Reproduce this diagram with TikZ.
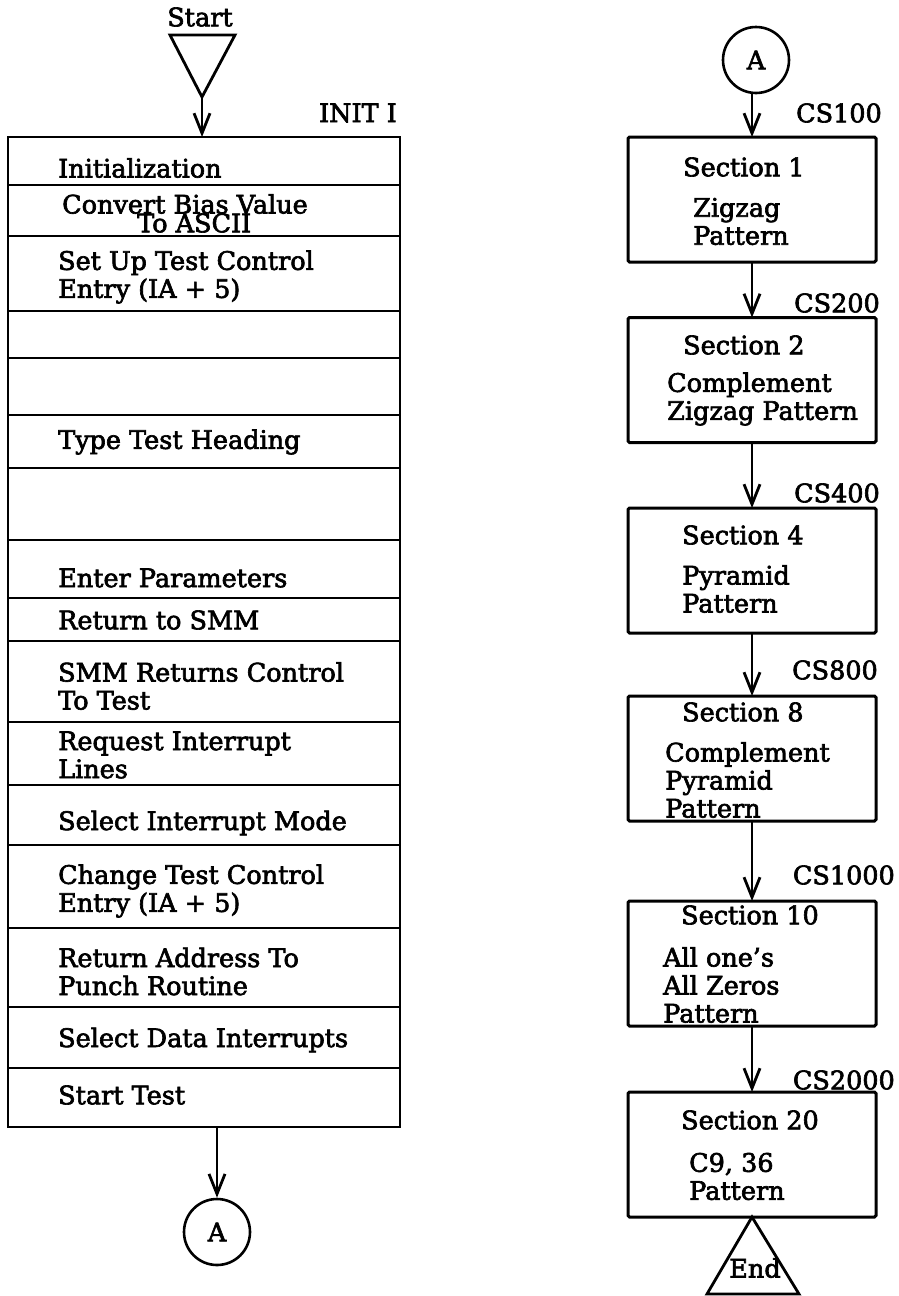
\documentclass[tikz,border=0pt]{standalone}
\usepackage{fontspec}
\setmainfont{DejaVu Serif}[FakeBold=2.5]
\usetikzlibrary{arrows.meta}
\begin{document}
\begin{tikzpicture}[x=1pt,y=-1pt,
  every node/.style={font=\fontsize{25.5}{28}\selectfont},
  row/.style={draw, line width=2.8pt, minimum width=392pt, inner sep=0pt, outer sep=0pt},
  sbox/.style={draw, line width=3pt, minimum width=248pt, minimum height=125pt, inner sep=0pt, outer sep=0pt, rounded corners=1.5pt},
  txt/.style={inner sep=0pt, anchor=west, align=left},
  lbl/.style={inner sep=0pt, anchor=east},
  conn/.style={circle, draw, line width=2.6pt, minimum size=66pt, inner sep=0pt},
  arr/.style={line width=2.8pt, -{Straight Barb[length=20pt,width=16pt,line width=2.8pt]}},
  tri/.style={line width=2.8pt, line join=miter}
]
\useasboundingbox (0,0) rectangle (898,1296);
% ---------- left column ----------
\node[inner sep=0pt] (start) at (200,17) {Start};
\draw[tri] (170,35) -- (235,35) -- (202,97) -- cycle;
\coordinate (apex) at (202,97);
\node[lbl] (init) at (397,113) {INIT I};

\node[row, minimum height=48pt] (r1) at (204,161) {};
\node[row, minimum height=51pt] (r2) at (204,210.5) {};
\node[row, minimum height=75pt] (r3) at (204,273.5) {};
\node[row, minimum height=47pt] (r4) at (204,334.5) {};
\node[row, minimum height=57pt] (r5) at (204,386.5) {};
\node[row, minimum height=53pt] (r6) at (204,441.5) {};
\node[row, minimum height=72pt] (r7) at (204,504) {};
\node[row, minimum height=58pt] (r8) at (204,569) {};
\node[row, minimum height=43pt] (r9) at (204,619.5) {};
\node[row, minimum height=81pt] (r10) at (204,681.5) {};
\node[row, minimum height=63pt] (r11) at (204,753.5) {};
\node[row, minimum height=60pt] (r12) at (204,815) {};
\node[row, minimum height=83pt] (r13) at (204,886.5) {};
\node[row, minimum height=79pt] (r14) at (204,967.5) {};
\node[row, minimum height=61pt] (r15) at (204,1037.5) {};
\node[row, minimum height=59pt] (r16) at (204,1097.5) {};

\node[txt] (t1) at (58,168) {Initialization};
\node[txt] (t2a) at (62,204) {Convert Bias Value};
\node[txt] (t2b) at (137,223) {To ASCII};
\node[txt] (t3) at (58,277) {Set Up Test Control\\Entry (IA + 5)};
\node[txt] (t6) at (58,442) {Type Test Heading};
\node[txt] (t8) at (58,578) {Enter Parameters};
\node[txt] (t9) at (58,620) {Return to SMM};
\node[txt] (t10) at (58,686) {SMM Returns Control\\To Test};
\node[txt] (t11) at (58,755) {Request Interrupt\\Lines};
\node[txt] (t12) at (58,823) {Select Interrupt Mode};
\node[txt] (t13) at (58,891) {Change Test Control\\Entry (IA + 5)};
\node[txt] (t14) at (58,971.5) {Return Address To\\Punch Routine};
\node[txt] (t15) at (58,1040) {Select Data Interrupts};
\node[txt] (t16) at (58,1095) {Start Test};

\node[conn] (cA1) at (217,1232) {A};

\draw[arr] (apex) -- (apex |- r1.north);
\draw[arr] (cA1.north |- r16.south) -- (cA1.north);

% ---------- right column ----------
\node[conn] (cA2) at (756,60) {A};

\node[sbox] (b1) at (752,199.5) {};
\node[sbox] (b2) at (752,380) {};
\node[sbox] (b4) at (752,570.5) {};
\node[sbox] (b8) at (752,758.5) {};
\node[sbox] (b10) at (752,963.5) {};
\node[sbox] (b20) at (752,1154.5) {};

\node[lbl] (cs100) at (882,113) {CS100};
\node[lbl] (cs200) at (880,303) {CS200};
\node[lbl] (cs400) at (880,493) {CS400};
\node[lbl] (cs800) at (878,670) {CS800};
\node[lbl] (cs1000) at (895,875) {CS1000};
\node[lbl] (cs2000) at (895,1080) {CS2000};

\node[txt] (s1) at (683,167) {Section 1};
\node[txt] (p1) at (693,221.5) {Zigzag\\Pattern};
\node[txt] (s2) at (683,345) {Section 2};
\node[txt] (p2) at (667,399) {Complement\\Zigzag Pattern};
\node[txt] (s4) at (682,535) {Section 4};
\node[txt] (p4) at (682,589) {Pyramid\\Pattern};
\node[txt] (s8) at (682,712) {Section 8};
\node[txt] (p8) at (665,780) {Complement\\Pyramid\\Pattern};
\node[txt] (s10) at (681,915) {Section 10};
\node[txt] (p10) at (663,985) {All one's\\All Zeros\\Pattern};
\node[txt] (s20) at (681,1120) {Section 20};
\node[txt] (p20) at (689,1176.5) {C9, 36\\Pattern};

\draw[arr] (cA2.south -| b1.north) -- (b1.north);
\draw[arr] (b1.south) -- (b2.north);
\draw[arr] (b2.south) -- (b4.north);
\draw[arr] (b4.south) -- (b8.north);
\draw[arr] (b8.south) -- (b10.north);
\draw[arr] (b10.south) -- (b20.north);

\draw[tri] (b20.south) -- (799,1294) -- (707,1294) -- cycle;
\node[inner sep=0pt] (endt) at (755,1268) {End};
\end{tikzpicture}
\end{document}
